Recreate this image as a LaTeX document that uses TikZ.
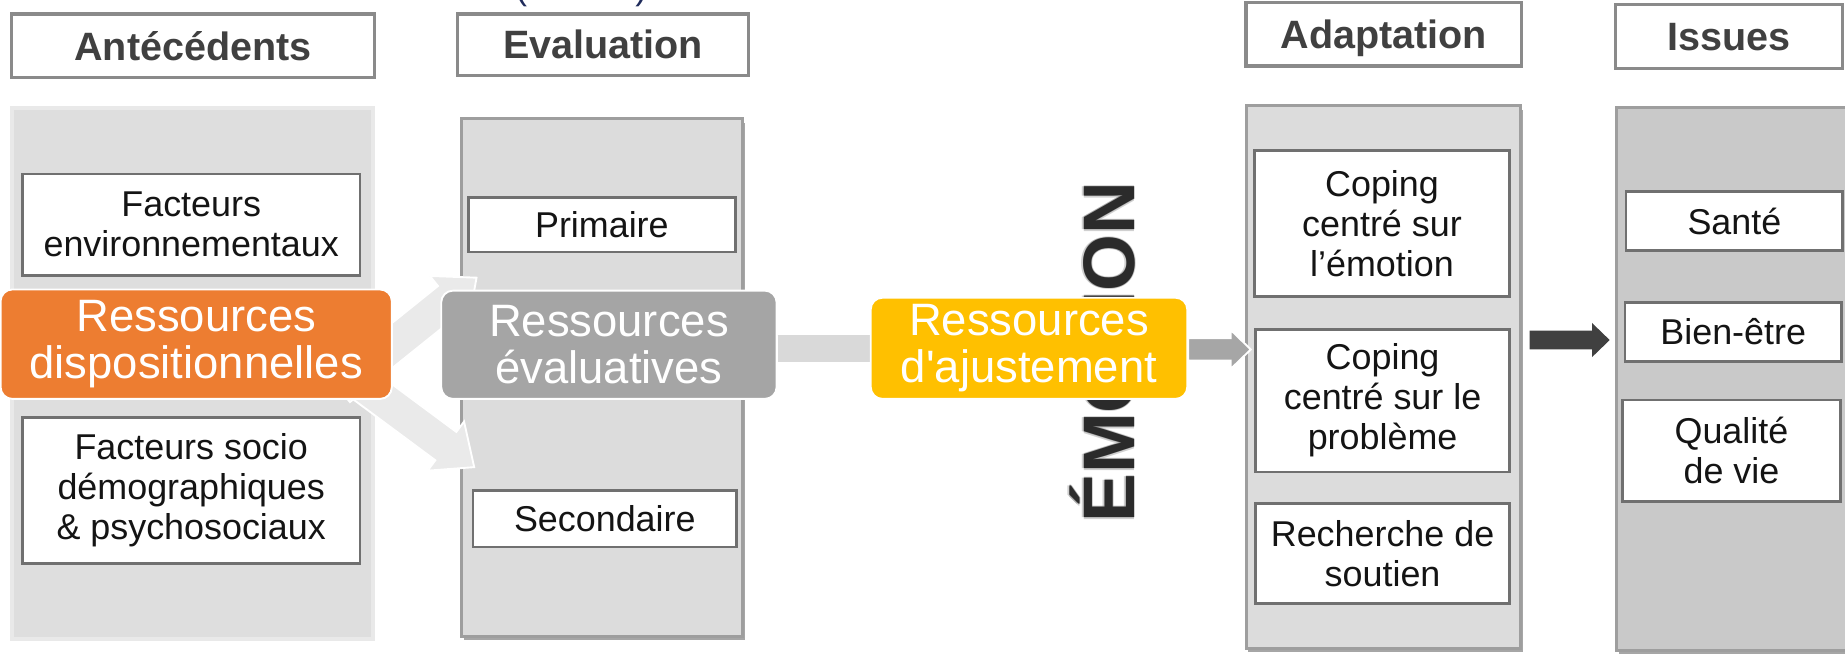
\documentclass[tikz,border=0pt]{standalone}
\usepackage{fontspec}
\setmainfont{Liberation Sans}[Ligatures=TeXOff]
\usetikzlibrary{calc,shadows}

\definecolor{resorange}{HTML}{ED7D31}
\definecolor{resgray}{HTML}{A5A5A5}
\definecolor{resgold}{HTML}{FFC000}
\definecolor{panelfill}{HTML}{DCDCDC}
\definecolor{panelsoft}{HTML}{DEDEDE}
\definecolor{paneledge}{HTML}{E9E9E9}
\definecolor{paneldark}{HTML}{C9C9C9}
\definecolor{panelline}{HTML}{9E9E9E}
\definecolor{hdrline}{HTML}{8A8A8A}
\definecolor{hdrtext}{HTML}{404040}
\definecolor{itemline}{HTML}{707070}
\definecolor{linkpale}{HTML}{EAEAEA}
\definecolor{linkbar}{HTML}{D9D9D9}
\definecolor{linkmid}{HTML}{A6A6A6}
\definecolor{linkdark}{HTML}{404040}
\definecolor{emotext}{HTML}{2B2B2B}
\definecolor{citenavy}{HTML}{1F2B5B}

% block arrow: #1 style, #2 start, #3 tip, #4 half shaft, #5 half head, #6 head length
\newcommand\blockarrow[6]{%
  \coordinate (bahead) at ($(#3)!#6!(#2)$);
  \path[#1] ($(#2)!#4!90:(#3)$) -- ($(bahead)!#4!90:(#3)$) -- ($(bahead)!#5!90:(#3)$) -- (#3)
    -- ($(bahead)!#5!-90:(#3)$) -- ($(bahead)!#4!-90:(#3)$) -- ($(#2)!#4!-90:(#3)$) -- cycle;}

% rectangular node from its corners: #1 style, #2 name, #3-#6 x1 y1 x2 y2, #7 text
\newcommand\boxnode[7]{%
  \node[#1, minimum width={(#5-#3)*0.5pt}, minimum height={(#6-#4)*0.5pt}]
    (#2) at ({(#3+#5)/2},{(#4+#6)/2}) {#7};}

\begin{document}
\begin{tikzpicture}[x=0.5pt,y=-0.5pt,
  cite/.style={text=citenavy, font=\fontsize{15pt}{18pt}\selectfont, inner sep=0pt},
  hdr/.style={draw=hdrline, line width=1.4pt, fill=white, inner sep=0pt,
    text=hdrtext, font=\bfseries\fontsize{16.8pt}{18pt}\selectfont,
    text height=12pt, text depth=0pt},
  softpanel/.style={fill=panelsoft, draw=paneledge, line width=1.6pt, inner sep=0pt},
  panel/.style={fill=panelfill, draw=panelline, line width=1.3pt, inner sep=0pt,
    drop shadow={shadow xshift=1pt, shadow yshift=-1.6pt, opacity=0.35, fill=black}},
  item/.style={draw=itemline, line width=1.1pt, fill=white, inner sep=0pt, align=center,
    text=black!92, font=\fontsize{15.25pt}{17pt}\selectfont},
  oneline/.style={text height=10.9pt, text depth=0pt},
  res/.style={rounded corners=5pt, draw=white, line width=0.8pt, inner sep=0pt,
    align=center, text=white, font=\fontsize{19.3pt}{19.8pt}\selectfont},
  palearrow/.style={fill=linkpale, draw=white, line width=0.8pt},
  midarrow/.style={fill=linkmid, draw=white, line width=0.8pt},
  darkarrow/.style={fill=linkdark},
  emo/.style={rotate=90, anchor=base, inner sep=0pt, text=emotext,
    font=\bfseries\fontsize{31pt}{31pt}\selectfont}]

\clip (0,0) rectangle (1568,561);
\fill[white] (0,0) rectangle (1568,561);

% brackets of the caption line above
\node[cite, anchor=base] (parL) at (443,0) {(};
\node[cite, anchor=base] (parR) at (545,0) {)};

% column headers
\boxnode{hdr}{hAnt}{10}{12}{318}{66}{Antécédents}
\boxnode{hdr}{hEval}{389}{12}{636}{64}{Evaluation}
\boxnode{hdr}{hAdapt}{1059}{2}{1293}{56}{Adaptation}
\boxnode{hdr}{hIss}{1373}{4}{1566}{58}{Issues}

% column panels
\boxnode{softpanel}{pAnt}{10}{92}{317}{543}{}
\boxnode{panel}{pEval}{392}{101}{631}{541}{}
\boxnode{panel}{pAdapt}{1059}{90}{1292}{551}{}
\boxnode{panel, fill=paneldark}{pIss}{1374}{91}{1580}{553}{}

% items
\boxnode{item}{fEnv}{19}{148}{306}{234}{Facteurs\\environnementaux}
\boxnode{item}{fSoc}{19}{355}{306}{479}{Facteurs socio\\démographiques\\\& psychosociaux}
\boxnode{item, oneline}{ePrim}{398}{168}{625}{214}{Primaire}
\boxnode{item, oneline}{eSec}{402}{417}{626}{465}{Secondaire}
\boxnode{item}{aEmo}{1066}{128}{1283}{252}{Coping\\centré sur\\l’émotion}
\boxnode{item}{aProb}{1067}{280}{1283}{401}{Coping\\centré sur le\\problème}
\boxnode{item}{aSout}{1067}{428}{1283}{513}{Recherche de\\soutien}
\boxnode{item, oneline}{iSante}{1382}{163}{1566}{213}{Santé}
\boxnode{item, oneline}{iBien}{1381}{257}{1565}{307}{Bien-être}
\boxnode{item}{iQual}{1379}{340}{1564}{426}{Qualité\\de vie}

% pale arrows from the antecedents towards the two appraisals
\coordinate (upS) at (288,330);
\coordinate (upT) at (405,236);
\coordinate (loS) at (283,308);
\coordinate (loT) at (403,397);
\blockarrow{palearrow}{upS}{upT}{7.5pt}{13pt}{15pt}
\blockarrow{palearrow}{loS}{loT}{7.5pt}{13pt}{15pt}

% vertical label
\foreach \dx/\dy in {1.2/0,-1.2/0,0/1.2,0/-1.2}
  \node[emo, opacity=0.22] at (964+\dx,299.5+\dy) {ÉMOTION};
\node[emo] (emo) at (964,299.5) {ÉMOTION};

% resource boxes
\boxnode{res, fill=resorange}{rDisp}{0.5}{246}{333}{339}{Ressources\\dispositionnelles}
\boxnode{res, fill=resgray}{rEval}{375}{247}{660}{339}{Ressources\\évaluatives}

% bar between the evaluative and adjustment resources
\draw[linkbar, line width=11.5pt] (rEval.east |- 0,296) -- (740,296) coordinate (barEnd);

\boxnode{res, fill=resgold}{rAdj}{740}{253}{1009}{339}{Ressources\\d'ajustement}

% arrows into the adaptation and outcome columns
\coordinate (adjT) at (1063,297);
\blockarrow{midarrow}{rAdj.east |- adjT}{adjT}{4.75pt}{8.25pt}{8.5pt}
\coordinate (issS) at (1300,289);
\coordinate (issT) at (1368,289);
\blockarrow{darkarrow}{issS}{issT}{4pt}{7.25pt}{7.5pt}
\end{tikzpicture}
\end{document}
